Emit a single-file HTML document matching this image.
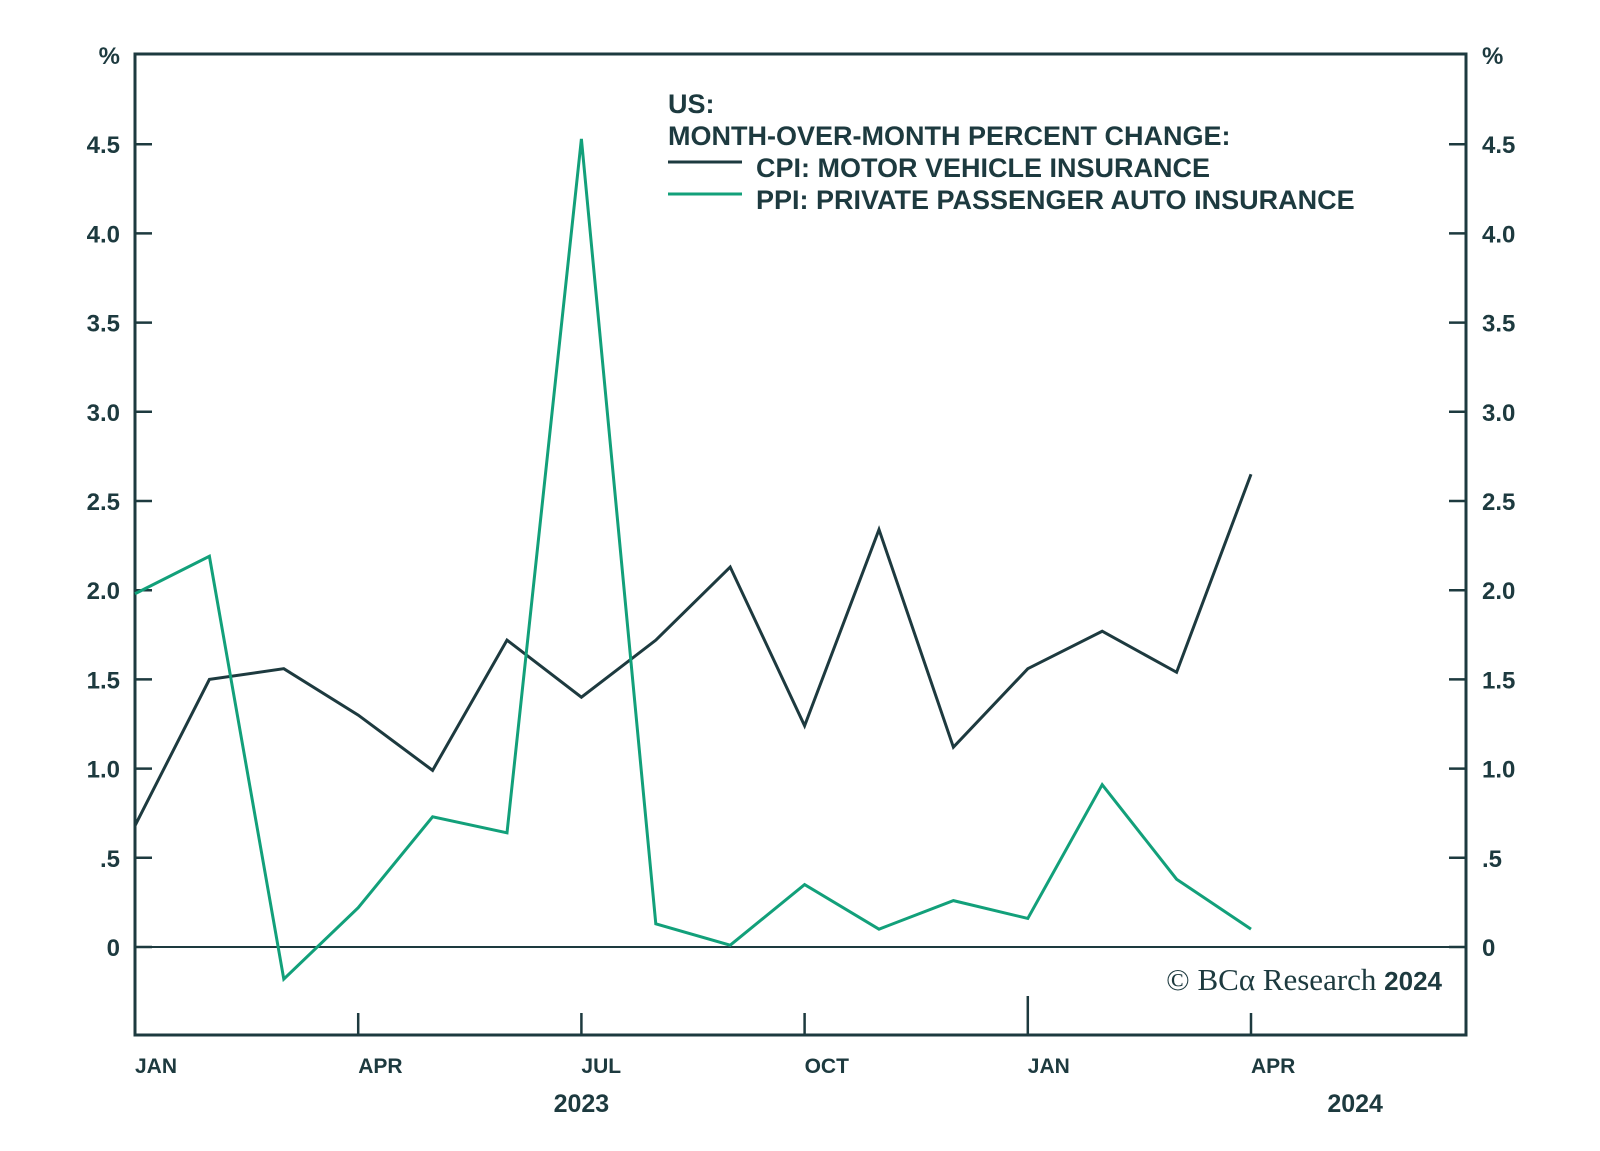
<!DOCTYPE html>
<html><head><meta charset="utf-8"><style>
html,body{margin:0;padding:0;background:#fff;}
svg text{font-family:"Liberation Sans",sans-serif;fill:#1d3a3f;font-weight:bold;}
</style></head><body>
<svg id="chart" width="1600" height="1146" viewBox="0 0 1600 1146" xmlns="http://www.w3.org/2000/svg">
<g id="axes"></g>
<g id="series"></g>
<g id="legend">
<text x="668" y="113" font-size="27">US:</text>
<text x="668" y="145" font-size="27">MONTH-OVER-MONTH PERCENT CHANGE:</text>
<line x1="668" y1="162" x2="742" y2="162" stroke="#1d3a3f" stroke-width="3"/>
<text x="756" y="177" font-size="27">CPI: MOTOR VEHICLE INSURANCE</text>
<line x1="668" y1="194" x2="742" y2="194" stroke="#12a07a" stroke-width="3"/>
<text x="756" y="209" font-size="27">PPI: PRIVATE PASSENGER AUTO INSURANCE</text>
</g>
<text x="1442" y="990" font-size="31" text-anchor="end" style="font-family:'Liberation Serif',serif;font-weight:normal">© BCα Research <tspan style="font-family:'Liberation Sans',sans-serif;font-weight:bold;font-size:26px">2024</tspan></text>
</svg>
<script>
const cpi=[0.68,1.50,1.56,1.30,0.99,1.72,1.40,1.72,2.13,1.24,2.34,1.12,1.56,1.77,1.54,2.65];
const ppi=[1.98,2.19,-0.18,0.22,0.73,0.64,4.53,0.13,0.01,0.35,0.10,0.26,0.16,0.91,0.38,0.10];
const yTicks=[0,0.5,1,1.5,2,2.5,3,3.5,4,4.5];
const yTickLabels=["0",".5","1.0","1.5","2.0","2.5","3.0","3.5","4.0","4.5"];
const monthTicks=[0,3,6,9,12,15];
const monthLabels=["JAN","APR","JUL","OCT","JAN","APR"];
const yearLabels=["2023","2024"];
const yearPos=[6,16.4];

const L=135,R=1466,T=54,B=1035;
const X=i=>L+i*74.4;
const Y=v=>947-v*178.4;
const NS="http://www.w3.org/2000/svg";
const C="#1d3a3f";
function mk(tag,attrs,parent,txt){const e=document.createElementNS(NS,tag);for(const k in attrs)e.setAttribute(k,attrs[k]);if(txt!==undefined)e.textContent=txt;parent.appendChild(e);return e;}
const ax=document.getElementById('axes');
let f=mk('rect',{x:L,y:T,width:R-L,height:B-T,fill:'none',stroke:C,'stroke-width':3},ax);


let z=mk('line',{x1:L,x2:R,y1:Y(0),y2:Y(0),stroke:C,'stroke-width':2},ax);


yTicks.forEach((v,i)=>{
 mk('line',{x1:L,x2:L+17,y1:Y(v),y2:Y(v),stroke:C,'stroke-width':2.5},ax);
 mk('line',{x1:R-17,x2:R,y1:Y(v),y2:Y(v),stroke:C,'stroke-width':2.5},ax);
 let t=mk('text',{x:120,y:Y(v)+9,'font-size':24,'text-anchor':'end'},ax,yTickLabels[i]);
 
 
 let t2=mk('text',{x:1482,y:Y(v)+9,'font-size':24},ax,yTickLabels[i]);
 
 
});
let p1=mk('text',{x:120,y:64,'font-size':24,'text-anchor':'end','font-weight':'normal'},ax,'%');


let p2=mk('text',{x:1482,y:64,'font-size':24,'font-weight':'normal'},ax,'%');


monthTicks.forEach((m,i)=>{
 const tall=monthLabels[i]==='JAN';
 mk('line',{x1:X(m),x2:X(m),y1:tall?996:1013,y2:B,stroke:C,'stroke-width':2.5},ax);
 let t=mk('text',{x:X(m),y:1073,'font-size':21},ax,monthLabels[i]);
 
 
});
yearLabels.forEach((y,i)=>{
 let t=mk('text',{x:X(yearPos[i]),y:1112,'font-size':25,'text-anchor':'middle'},ax,y);
 
 
});
const sg=document.getElementById('series');
let l1=mk('polyline',{points:cpi.map((v,i)=>X(i)+','+Y(v)).join(' '),fill:'none',stroke:C,'stroke-width':3,'stroke-linejoin':'miter'},sg);


let l2=mk('polyline',{points:ppi.map((v,i)=>X(i)+','+Y(v)).join(' '),fill:'none',stroke:'#12a07a','stroke-width':3,'stroke-linejoin':'miter'},sg);


</script>
</body></html>
